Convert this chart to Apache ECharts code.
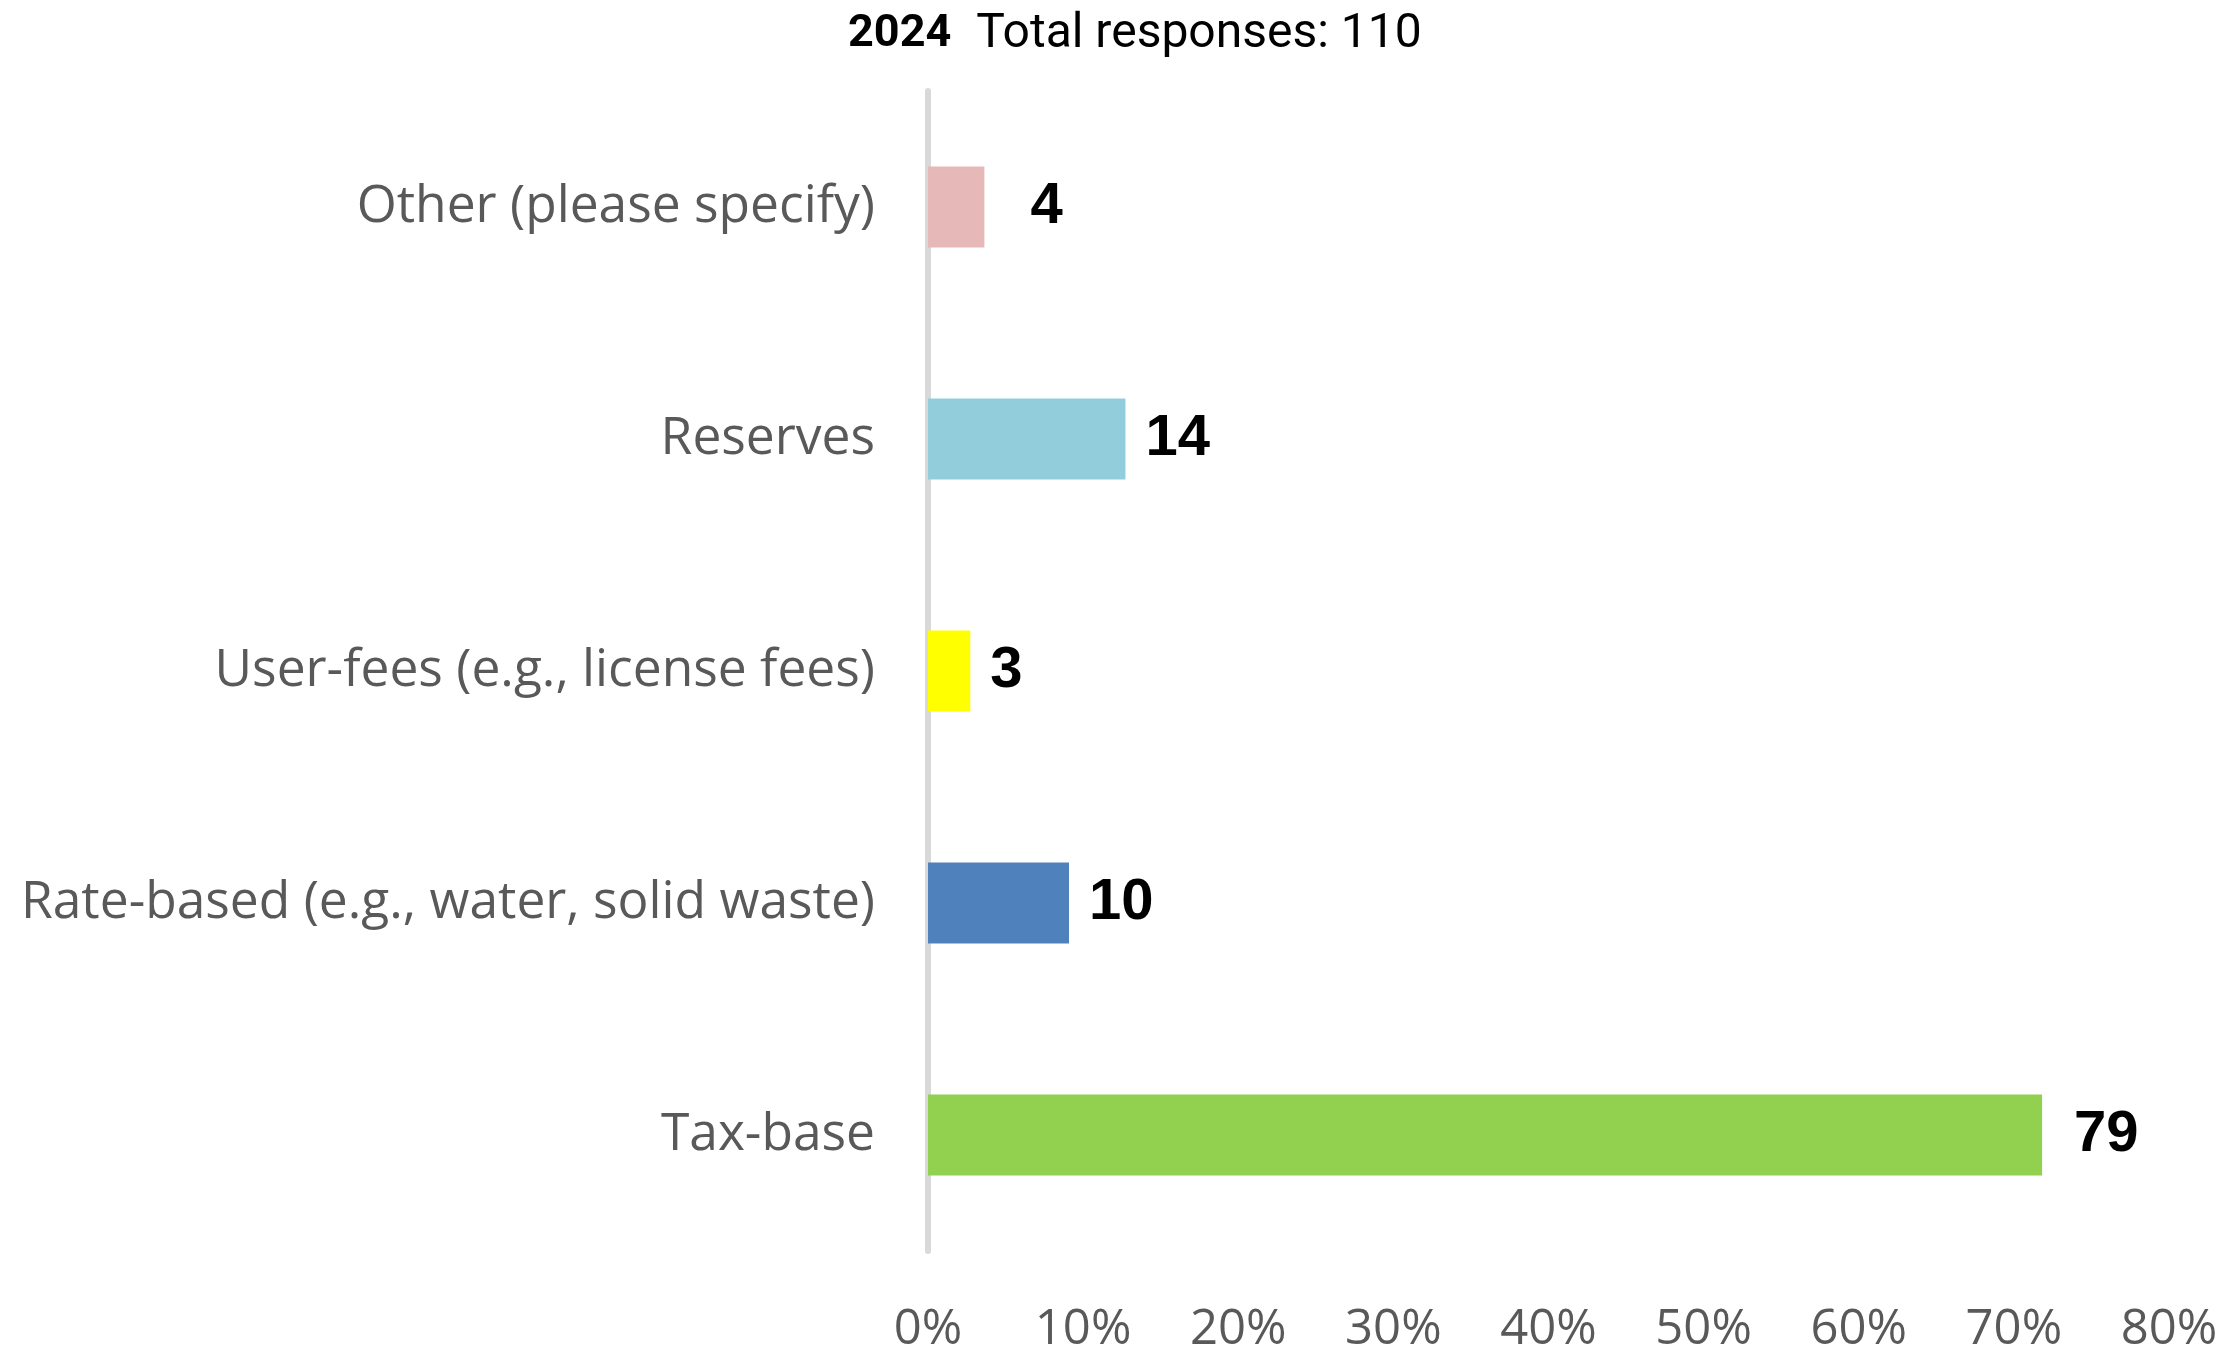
<!DOCTYPE html>
<html>
<head>
<meta charset="utf-8">
<title>2024 Total responses: 110</title>
<script src="https://cdn.jsdelivr.net/npm/echarts@6/dist/echarts.min.js"></script>
<style>
  html, body { margin: 0; padding: 0; background: #ffffff; }
  #chart { width: 2229px; height: 1355px; }
</style>
</head>
<body>
<div id="chart"></div>
<script>
// Funding sources, listed bottom to top as drawn on the category axis
const categories = [
  'Tax-base',
  'Rate-based (e.g., water, solid waste)',
  'User-fees (e.g., license fees)',
  'Reserves',
  'Other (please specify)'
];
const counts = [79, 10, 3, 14, 4];
const totalResponses = 110;
const surveyYear = '2024';
const percentTicks = [0, 10, 20, 30, 40, 50, 60, 70, 80];

const barColors = ['#92D050', '#4F81BD', '#FFFF00', '#92CDDC', '#E6B8B7'];
// Extra gap between a few bar ends and their count labels
const labelGap = { 'Tax-base': 32, 'Other (please specify)': 46 };

const seriesData = categories.map((name, i) => ({
  value: counts[i] / totalResponses * 100,
  count: counts[i],
  itemStyle: { color: barColors[i] },
  label: { distance: labelGap[name] || 20 }
}));

const chart = echarts.init(document.getElementById('chart'), null, { renderer: 'canvas' });

chart.setOption({
  animation: false,
  backgroundColor: '#ffffff',
  title: {
    text: '{y|' + surveyYear + '}{t|Total responses: ' + totalResponses + '}',
    left: 843,
    top: 6,
    textStyle: {
      rich: {
        y: { fontFamily: 'Roboto', fontWeight: 'bold', fontSize: 45, color: '#000000', padding: [0, 25, 0, 0] },
        t: { fontFamily: 'Roboto', fontWeight: 'normal', fontSize: 48, color: '#000000' }
      }
    }
  },
  grid: { left: 928, right: 60, top: 91, bottom: 98, containLabel: false },
  xAxis: {
    type: 'value',
    min: percentTicks[0],
    max: percentTicks[percentTicks.length - 1],
    interval: percentTicks[1] - percentTicks[0],
    axisLine: { show: false },
    axisTick: { show: false },
    splitLine: { show: false },
    axisLabel: {
      formatter: '{value}%',
      color: '#595959',
      fontFamily: 'Open Sans',
      fontSize: 49,
      margin: 55
    }
  },
  yAxis: {
    type: 'category',
    data: categories,
    axisLine: { show: true, lineStyle: { color: '#D9D9D9', width: 6 } },
    axisTick: { show: false },
    splitLine: { show: false },
    axisLabel: {
      color: '#595959',
      fontFamily: 'Open Sans',
      fontSize: 51.5,
      margin: 53,
      padding: [6, 0, 0, 0]
    }
  },
  series: [{
    type: 'bar',
    data: seriesData,
    barWidth: 81,
    label: {
      show: true,
      position: 'right',
      formatter: p => String(p.data.count),
      color: '#000000',
      fontFamily: 'Liberation Sans',
      fontWeight: 'bold',
      fontSize: 58
    }
  }]
});
</script>
</body>
</html>
